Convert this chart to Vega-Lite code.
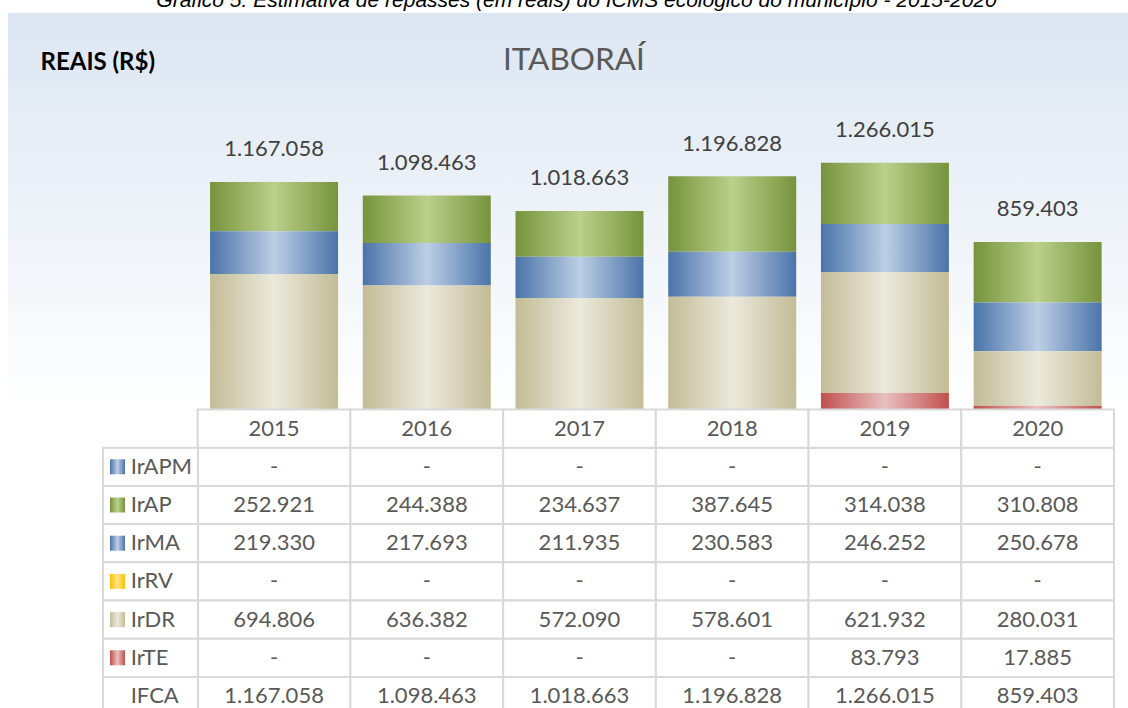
{
  "$schema": "https://vega.github.io/schema/vega-lite/v6.json",
  "width": 1120,
  "height": 695,
  "autosize": {"type": "none"},
  "padding": {"left": 8, "top": 13, "right": 0, "bottom": 0},
  "background": "#ffffff",
  "config": {
    "view": {"stroke": null, "fill": {"gradient": "linear", "x1": 0, "y1": 0, "x2": 0, "y2": 1, "stops": [{"offset": 0, "color": "#dce6f2"}, {"offset": 0.57, "color": "#ffffff"}, {"offset": 1, "color": "#ffffff"}]}},
    "locale": {"number": {"decimal": ",", "thousands": ".", "grouping": [3], "currency": ["R$ ", ""]}},
    "axis": {"labels": false, "ticks": false, "domain": false, "grid": false}
  },
  "data": {"values": [
    {"year": "2015", "component": "IrAPM", "value": 0},
    {"year": "2015", "component": "IrAP", "value": 252921},
    {"year": "2015", "component": "IrMA", "value": 219330},
    {"year": "2015", "component": "IrRV", "value": 0},
    {"year": "2015", "component": "IrDR", "value": 694806},
    {"year": "2015", "component": "IrTE", "value": 0},
    {"year": "2015", "component": "IFCA", "value": 1167058},
    {"year": "2016", "component": "IrAPM", "value": 0},
    {"year": "2016", "component": "IrAP", "value": 244388},
    {"year": "2016", "component": "IrMA", "value": 217693},
    {"year": "2016", "component": "IrRV", "value": 0},
    {"year": "2016", "component": "IrDR", "value": 636382},
    {"year": "2016", "component": "IrTE", "value": 0},
    {"year": "2016", "component": "IFCA", "value": 1098463},
    {"year": "2017", "component": "IrAPM", "value": 0},
    {"year": "2017", "component": "IrAP", "value": 234637},
    {"year": "2017", "component": "IrMA", "value": 211935},
    {"year": "2017", "component": "IrRV", "value": 0},
    {"year": "2017", "component": "IrDR", "value": 572090},
    {"year": "2017", "component": "IrTE", "value": 0},
    {"year": "2017", "component": "IFCA", "value": 1018663},
    {"year": "2018", "component": "IrAPM", "value": 0},
    {"year": "2018", "component": "IrAP", "value": 387645},
    {"year": "2018", "component": "IrMA", "value": 230583},
    {"year": "2018", "component": "IrRV", "value": 0},
    {"year": "2018", "component": "IrDR", "value": 578601},
    {"year": "2018", "component": "IrTE", "value": 0},
    {"year": "2018", "component": "IFCA", "value": 1196828},
    {"year": "2019", "component": "IrAPM", "value": 0},
    {"year": "2019", "component": "IrAP", "value": 314038},
    {"year": "2019", "component": "IrMA", "value": 246252},
    {"year": "2019", "component": "IrRV", "value": 0},
    {"year": "2019", "component": "IrDR", "value": 621932},
    {"year": "2019", "component": "IrTE", "value": 83793},
    {"year": "2019", "component": "IFCA", "value": 1266015},
    {"year": "2020", "component": "IrAPM", "value": 0},
    {"year": "2020", "component": "IrAP", "value": 310808},
    {"year": "2020", "component": "IrMA", "value": 250678},
    {"year": "2020", "component": "IrRV", "value": 0},
    {"year": "2020", "component": "IrDR", "value": 280031},
    {"year": "2020", "component": "IrTE", "value": 17885},
    {"year": "2020", "component": "IFCA", "value": 859403}
  ]},
  "layer": [
    {
      "encoding": {
        "x": {"field": "year", "type": "nominal",
          "scale": {"domain": ["2015", "2016", "2017", "2018", "2019", "2020"], "range": [189.7, 1106], "paddingInner": 0, "paddingOuter": 0},
          "axis": {"orient": "top", "title": "Gráfico 5: Estimativa de repasses (em reais) do ICMS ecológico do município - 2015-2020", "titleX": 568, "titleY": -7, "titleAlign": "center", "titleAnchor": null, "titleBaseline": "alphabetic", "titleFont": "Liberation Sans", "titleFontStyle": "italic", "titleFontWeight": "normal", "titleFontSize": 21, "titleColor": "#000000"}},
        "y": {"field": "value", "type": "quantitative",
          "scale": {"domain": [0, 1400000], "range": [396.3, 123.7], "nice": false, "zero": true},
          "axis": {"orient": "left", "title": "REAIS (R$)", "titleX": 32, "titleY": 56.3, "titleAngle": 0, "titleAlign": "left", "titleAnchor": null, "titleBaseline": "alphabetic", "titleFont": "Lato", "titleFontWeight": "bold", "titleFontSize": 24, "titleColor": "#000000"}}
      },
      "layer": [
        {
          "transform": [
            {"filter": "datum.component !== 'IFCA'"},
            {"calculate": "indexof(['IrTE','IrDR','IrRV','IrMA','IrAP','IrAPM'], datum.component)", "as": "stack_rank"}
          ],
          "mark": {"type": "bar", "width": {"band": 0.838}},
          "encoding": {
            "order": {"field": "stack_rank", "type": "quantitative", "sort": "ascending"},
            "color": {"field": "component", "type": "nominal", "legend": null,
              "scale": {"domain": ["IrAPM", "IrAP", "IrMA", "IrRV", "IrDR", "IrTE"],
                "range": [
                  {"expr": "{gradient:'linear',x1:0,y1:0,x2:1,y2:0,stops:[{offset:0,color:'#4a74a9'},{offset:0.5,color:'#bdcee5'},{offset:1,color:'#4a74a9'}]}"},
                  {"expr": "{gradient:'linear',x1:0,y1:0,x2:1,y2:0,stops:[{offset:0,color:'#77933c'},{offset:0.5,color:'#bad08b'},{offset:1,color:'#77933c'}]}"},
                  {"expr": "{gradient:'linear',x1:0,y1:0,x2:1,y2:0,stops:[{offset:0,color:'#4a74a9'},{offset:0.5,color:'#bdcee5'},{offset:1,color:'#4a74a9'}]}"},
                  {"expr": "{gradient:'linear',x1:0,y1:0,x2:1,y2:0,stops:[{offset:0,color:'#ffc000'},{offset:0.5,color:'#ffe38a'},{offset:1,color:'#ffc000'}]}"},
                  {"expr": "{gradient:'linear',x1:0,y1:0,x2:1,y2:0,stops:[{offset:0,color:'#c3bc96'},{offset:0.5,color:'#ebe9dd'},{offset:1,color:'#c3bc96'}]}"},
                  {"expr": "{gradient:'linear',x1:0,y1:0,x2:1,y2:0,stops:[{offset:0,color:'#c0504d'},{offset:0.5,color:'#e9c0c0'},{offset:1,color:'#c0504d'}]}"}
                ]}}
          }
        },
        {
          "transform": [{"filter": "datum.component === 'IFCA'"}],
          "mark": {"type": "text", "dy": -32.6, "baseline": "middle", "font": "Lato", "fontSize": 22, "color": "#404040"},
          "encoding": {"text": {"field": "value", "type": "quantitative", "format": ",d"}}
        }
      ]
    },
    {
      "encoding": {
        "x": {"field": "year", "type": "nominal",
          "scale": {"domain": ["2015", "2016", "2017", "2018", "2019", "2020"], "range": [189.7, 1106], "paddingInner": 0, "paddingOuter": 0},
          "axis": {"orient": "bottom", "title": "ITABORAÍ", "titleX": 565.4, "titleY": -638.3, "titleAlign": "center", "titleAnchor": null, "titleBaseline": "alphabetic", "titleFont": "Lato", "titleFontWeight": "normal", "titleFontSize": 31.5, "titleColor": "#595959"}}
      },
      "layer": [
        {
          "mark": {"type": "rect", "fill": "#ffffff", "stroke": "#d9d9d9", "strokeWidth": 2},
          "encoding": {"y": {"field": "component", "type": "nominal", "scale": {"domain": ["header", "IrAPM", "IrAP", "IrMA", "IrRV", "IrDR", "IrTE", "IFCA"], "range": [396.5, 702.1], "paddingInner": 0, "paddingOuter": 0}, "axis": null}}
        },
        {
          "transform": [{"filter": "datum.component === 'IFCA'"}],
          "mark": {"type": "rect", "fill": "#ffffff", "stroke": "#d9d9d9", "strokeWidth": 2},
          "encoding": {"y": {"datum": "header", "type": "nominal", "scale": {"domain": ["header", "IrAPM", "IrAP", "IrMA", "IrRV", "IrDR", "IrTE", "IFCA"], "range": [396.5, 702.1], "paddingInner": 0, "paddingOuter": 0}, "axis": null}}
        },
        {
          "mark": {"type": "text", "baseline": "middle", "font": "Lato", "fontSize": 22, "color": "#595959"},
          "encoding": {
            "y": {"field": "component", "type": "nominal", "scale": {"domain": ["header", "IrAPM", "IrAP", "IrMA", "IrRV", "IrDR", "IrTE", "IFCA"], "range": [396.5, 702.1], "paddingInner": 0, "paddingOuter": 0}, "axis": null},
            "text": {"field": "value", "type": "quantitative", "format": ",d", "condition": {"test": "datum.value === 0", "value": "-"}}
          }
        },
        {
          "transform": [{"filter": "datum.component === 'IFCA'"}],
          "mark": {"type": "text", "baseline": "middle", "font": "Lato", "fontSize": 22, "color": "#595959"},
          "encoding": {
            "y": {"datum": "header", "type": "nominal", "scale": {"domain": ["header", "IrAPM", "IrAP", "IrMA", "IrRV", "IrDR", "IrTE", "IFCA"], "range": [396.5, 702.1], "paddingInner": 0, "paddingOuter": 0}, "axis": null},
            "text": {"field": "year", "type": "nominal"}
          }
        }
      ]
    },
    {
      "transform": [{"filter": "datum.year === '2015'"}],
      "encoding": {
        "x": {"datum": "label", "type": "nominal", "scale": {"domain": ["label"], "range": [95, 190], "paddingInner": 0, "paddingOuter": 0}, "axis": null},
        "y": {"field": "component", "type": "nominal", "scale": {"domain": ["header", "IrAPM", "IrAP", "IrMA", "IrRV", "IrDR", "IrTE", "IFCA"], "range": [396.5, 702.1], "paddingInner": 0, "paddingOuter": 0}, "axis": null}
      },
      "layer": [
        {"mark": {"type": "rect", "fill": "#ffffff", "stroke": "#d9d9d9", "strokeWidth": 2}},
        {
          "transform": [{"filter": "datum.component !== 'IFCA'"}],
          "mark": {"type": "point", "shape": "square", "filled": true, "size": 225, "opacity": 1, "xOffset": -33},
          "encoding": {"color": {"field": "component", "type": "nominal", "legend": null}}
        },
        {
          "mark": {"type": "text", "align": "left", "baseline": "middle", "xOffset": -19.8, "font": "Lato", "fontSize": 22, "color": "#595959"},
          "encoding": {"text": {"field": "component", "type": "nominal"}}
        }
      ]
    }
  ],
  "resolve": {"scale": {"x": "independent", "y": "independent"}, "axis": {"x": "independent", "y": "independent"}}
}
